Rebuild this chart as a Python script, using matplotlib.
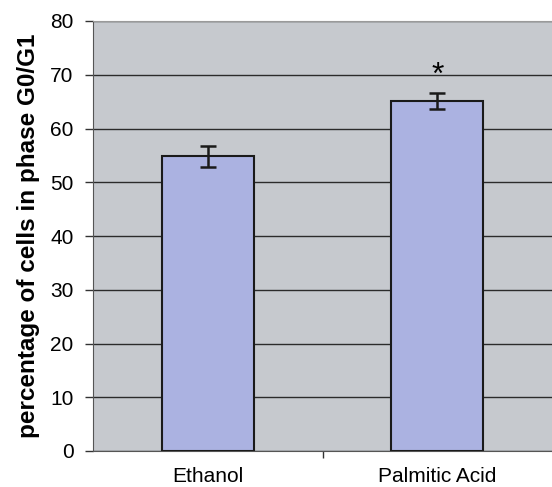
import numpy as np
import matplotlib.pyplot as plt

plt.rcParams['font.family'] = ['Liberation Sans', 'DejaVu Sans']

groups = ['Ethanol', 'Palmitic Acid']
g0g1 = [54.8, 65.1]
err = [1.9, 1.55]
stars = ['', '*']

fig = plt.figure(figsize=(5.52, 4.87), dpi=100)
ax = fig.add_axes([93/552, 36/487, 459/552, 430/487])
ax.set_facecolor('#c6c9ce')

x = np.arange(len(groups))
ax.bar(x, g0g1, width=0.4, color='#abb2e1', edgecolor='#1a1a1a', linewidth=1.5, zorder=3)
ax.errorbar(x, g0g1, yerr=err, fmt='none', ecolor='#1a1a1a', elinewidth=1.8,
            capsize=5.8, capthick=1.8, zorder=4)
for xi, v, e, s in zip(x, g0g1, err, stars):
    if s:
        ax.text(xi, v + e + 0.4, s, ha='center', va='bottom', fontsize=23, zorder=5)

ax.set_xlim(-0.5, 1.5)
ax.set_ylim(0, 80)
ax.set_yticks(np.arange(0, 81, 10))
ax.yaxis.grid(True, color='#2b2b2b', linewidth=1.0, zorder=1)
ax.set_axisbelow(True)

ax.set_xticks(x)
ax.set_xticklabels(groups, fontsize=15)
ax.tick_params(axis='x', length=0, pad=11.5)
ax.set_xticks([0.5], minor=True)
ax.tick_params(axis='x', which='minor', length=5, width=1, color='#333333')
ax.tick_params(axis='y', length=6, width=1, pad=8, labelsize=15, color='#333333')

ax.set_ylabel('percentage of cells in phase G0/G1', fontsize=17.5, fontweight='bold', labelpad=7)

ax.spines['top'].set_color('#9a9a9a')
ax.spines['right'].set_visible(False)
ax.spines['left'].set_color('#555555')
ax.spines['bottom'].set_color('#555555')

fig.savefig('out.png', dpi=100)
